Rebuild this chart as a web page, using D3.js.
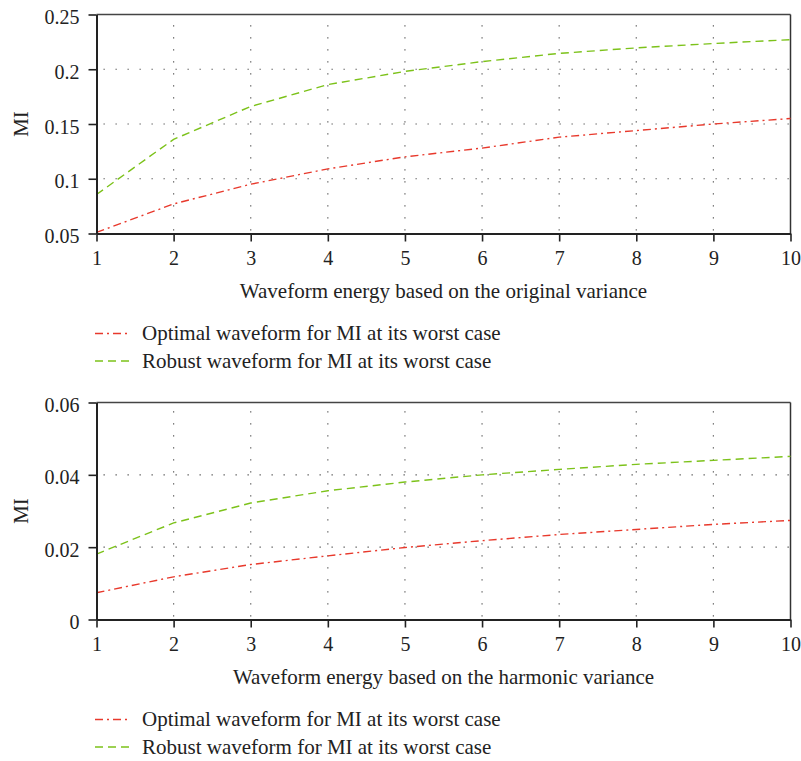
<!DOCTYPE html>
<html><head><meta charset="utf-8">
<script src="https://cdn.jsdelivr.net/npm/d3@7"></script>
<style>
body{margin:0;background:#fff}
</style>
</head><body>
<svg id="chart" width="801" height="761"></svg>
<script>
const energy = [1, 2, 3, 4, 5, 6, 7, 8, 9, 10];
const optimalOriginal = [0.051, 0.077, 0.095, 0.109, 0.120, 0.128, 0.138, 0.144, 0.150, 0.155];
const robustOriginal  = [0.0856, 0.136, 0.166, 0.186, 0.198, 0.207, 0.2145, 0.2195, 0.2235, 0.227];
const optimalHarmonic = [0.0074, 0.0118, 0.0152, 0.0176, 0.0199, 0.0218, 0.0235, 0.0249, 0.0263, 0.0274];
const robustHarmonic  = [0.0181, 0.0267, 0.0322, 0.0356, 0.0380, 0.0400, 0.0415, 0.0429, 0.0440, 0.0451];
const xTickValues = [1, 2, 3, 4, 5, 6, 7, 8, 9, 10];
const yTicksOriginal = [0.05, 0.1, 0.15, 0.2, 0.25];
const yTickLabelsOriginal = ["0.05", "0.1", "0.15", "0.2", "0.25"];
const yTicksHarmonic = [0, 0.02, 0.04, 0.06];
const yTickLabelsHarmonic = ["0", "0.02", "0.04", "0.06"];
const xTitles = ["Waveform energy based on the original variance", "Waveform energy based on the harmonic variance"];
const yTitle = "MI";
const seriesNames = ["Optimal waveform for MI at its worst case", "Robust waveform for MI at its worst case"];

const FONT = '"Liberation Serif", "Times New Roman", serif';
const colors = ["#e8392c", "#7cc21a"];
const dashes = ["8,4,2,4", "8,5"];

const svg = d3.select("#chart");
const xLeft = 96.5, xRight = 790.5;

function panel(top, bottom, domain, yTicks, yLabels, optimal, robust, xTitle) {
  const g = svg.append("g");
  const x = d3.scaleLinear().domain([1, 10]).range([xLeft, xRight]);
  const y = d3.scaleLinear().domain(domain).range([bottom, top]);

  // grid
  const grid = g.append("g").attr("stroke", "#555").attr("stroke-width", 1.2).attr("stroke-dasharray", "1.3,10.7");
  xTickValues.slice(1, -1).forEach(v => {
    grid.append("line").attr("x1", x(v)).attr("x2", x(v)).attr("y1", bottom - 3).attr("y2", top);
  });
  yTicks.slice(1, -1).forEach(v => {
    grid.append("line").attr("x1", xLeft + 7).attr("x2", xRight).attr("y1", y(v)).attr("y2", y(v));
  });

  // frame top/right
  g.append("line").attr("x1", xLeft).attr("x2", xRight).attr("y1", top).attr("y2", top)
    .attr("stroke", "#444").attr("stroke-width", 1.3);
  g.append("line").attr("x1", xRight).attr("x2", xRight).attr("y1", top).attr("y2", bottom)
    .attr("stroke", "#333").attr("stroke-width", 1.5);

  // series
  const line = d3.line().x((d, i) => x(energy[i])).y(d => y(d));
  [optimal, robust].forEach((s, k) => {
    g.append("path").datum(s).attr("d", line).attr("fill", "none")
      .attr("stroke", colors[k]).attr("stroke-width", 1.4).attr("stroke-dasharray", dashes[k]);
  });

  // axes
  const xa = g.append("g").attr("transform", `translate(0,${bottom})`)
    .call(d3.axisBottom(x).tickValues(xTickValues).tickFormat(d => String(d)).tickSize(8).tickSizeOuter(0).tickPadding(9));
  const ya = g.append("g").attr("transform", `translate(${xLeft},0)`)
    .call(d3.axisLeft(y).tickValues(yTicks).tickFormat((d, i) => yLabels[i]).tickSize(8).tickSizeOuter(0).tickPadding(9));
  [xa, ya].forEach(a => {
    a.attr("font-family", null);
    a.select(".domain").attr("stroke", "#222").attr("stroke-width", 2);
    a.selectAll(".tick line").attr("stroke", "#222").attr("stroke-width", 1.6);
    a.selectAll(".tick text").style("font-family", FONT).style("font-size", "20px").attr("fill", "#222");
  });
  ya.selectAll(".tick text").attr("dy", "0.45em");

  // titles
  g.append("text").attr("x", (xLeft + xRight) / 2).attr("y", bottom + 64)
    .attr("text-anchor", "middle").style("font-family", FONT).style("font-size", "21px").attr("fill", "#222").text(xTitle);
  g.append("text").attr("transform", `translate(28,${(top + bottom) / 2}) rotate(-90)`)
    .attr("text-anchor", "middle").style("font-family", FONT).style("font-size", "21px").attr("fill", "#222").text(yTitle);

  // legend
  seriesNames.forEach((name, k) => {
    const ly = bottom + 100 + k * 27.5;
    g.append("line").attr("x1", 95).attr("x2", 129).attr("y1", ly).attr("y2", ly)
      .attr("stroke", colors[k]).attr("stroke-width", 1.4).attr("stroke-dasharray", dashes[k]);
    g.append("text").attr("x", 142).attr("y", ly + 6.5)
      .style("font-family", FONT).style("font-size", "21px").attr("fill", "#222").text(name);
  });
}

panel(14.5, 233.5, [0.05, 0.25], yTicksOriginal, yTickLabelsOriginal, optimalOriginal, robustOriginal, xTitles[0]);
panel(402.5, 619.5, [0, 0.06], yTicksHarmonic, yTickLabelsHarmonic, optimalHarmonic, robustHarmonic, xTitles[1]);
</script>
</body></html>
